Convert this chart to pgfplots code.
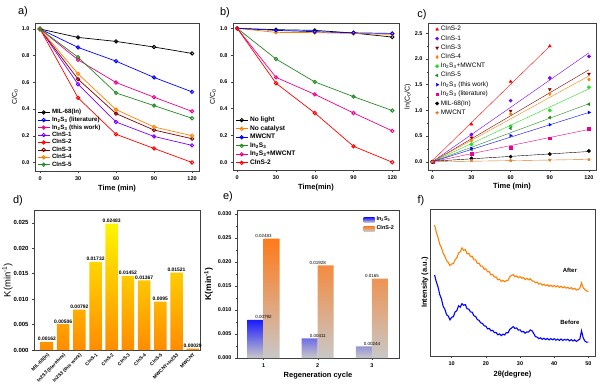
\documentclass[border=0pt]{standalone}
\usepackage{fontspec}
\setmainfont{Liberation Sans}
\usepackage{pgfplots}
\pgfplotsset{compat=1.18}
\usetikzlibrary{plotmarks}
\definecolor{cpurple}{HTML}{7F00FF}
\definecolor{cbrown}{HTML}{800000}
\definecolor{corange}{HTML}{FF8000}
\definecolor{cgreen}{HTML}{228B22}
\definecolor{clime}{HTML}{22DD22}
\definecolor{cstar}{HTML}{E07A20}
\definecolor{ytop}{HTML}{FFF500}
\definecolor{ybot}{HTML}{FF8C00}
\definecolor{gbot}{HTML}{C8C8C8}
\definecolor{btop}{HTML}{1A1AFF}
\definecolor{otop}{HTML}{FF7A1A}
\pgfplotsset{
  panel/.style={
    scale only axis,
    scaled y ticks=false, scaled x ticks=false,
    axis line style={black!75, line width=0.5pt},
    tick align=outside, xtick pos=left, ytick pos=left,
    major tick length=2bp, minor tick length=1.2bp,
    every tick/.style={black!75, line width=0.4pt},
    tick label style={font=\fontsize{5.5}{6}\selectfont\bfseries},
    /pgf/number format/assume math mode=true,
    label style={font=\fontsize{7.5}{8}\selectfont\bfseries},
    legend cell align=left,
    legend style={draw=none, fill=none, font=\fontsize{6.2}{6.5}\selectfont\bfseries, inner sep=0.5pt, row sep=-2.4pt},
  },
  lm/.style={line width=0.7pt, mark=o, mark size=1.7pt, mark options={line width=0.9pt}},
  linelegend/.style={legend image code/.code={\draw[##1, mark repeat=2, mark phase=2] plot coordinates {(0bp,0bp) (6bp,0bp) (12bp,0bp)};}},
}
\newcommand{\ins}{In\textsubscript{2}S\textsubscript{3}}
\begin{document}
\begin{tikzpicture}
% ---------------- panel a
\begin{axis}[panel, at={(35bp,-171bp)}, anchor=south west, width=164bp, height=148bp,
  xmin=-4, xmax=125.5, ymin=-0.064, ymax=1.045,
  xtick={0,30,60,90,120}, ytick={0,0.2,0.4,0.6,0.8,1.0}, minor x tick num=1,
  yticklabel style={/pgf/number format/.cd, fixed, fixed zerofill, precision=1},
  xlabel={Time (min)}, ylabel={C/C\textsubscript{0}},
  xlabel style={yshift=2bp}, ylabel style={yshift=-3bp, font=\fontsize{7}{8}\selectfont},
  linelegend,
  legend style={at={(0.01,0.005)}, anchor=south west}]
\addplot[lm, black] coordinates {(0,1) (30,0.937) (60,0.907) (90,0.865) (120,0.817)};
\addplot[lm, blue] coordinates {(0,1) (30,0.862) (60,0.759) (90,0.637) (120,0.529)};
\addplot[lm, magenta] coordinates {(0,1) (30,0.769) (60,0.599) (90,0.489) (120,0.383)};
\addplot[lm, cpurple] coordinates {(0,1) (30,0.586) (60,0.303) (90,0.195) (120,0.128)};
\addplot[lm, red] coordinates {(0,1) (30,0.484) (60,0.211) (90,0.105) (120,0.0)};
\addplot[lm, cbrown] coordinates {(0,1) (30,0.624) (60,0.366) (90,0.243) (120,0.178)};
\addplot[lm, corange] coordinates {(0,1) (30,0.664) (60,0.396) (90,0.266) (120,0.200)};
\addplot[lm, cgreen] coordinates {(0,1) (30,0.789) (60,0.521) (90,0.426) (120,0.331)};
\legend{MIL-68(In), \ins{} (literature), \ins{} (this work), CInS-1, CInS-2, CInS-3, CInS-4, CInS-5}
\end{axis}
\node[font=\fontsize{11}{12}\selectfont] at (23bp,-12bp) {a)};
% ---------------- panel b
\begin{axis}[panel, at={(233bp,-170bp)}, anchor=south west, width=166bp, height=147bp,
  xmin=-3.3, xmax=125.2, ymin=-0.058, ymax=1.04,
  xtick={0,30,60,90,120}, ytick={0,0.2,0.4,0.6,0.8,1.0}, minor x tick num=1,
  yticklabel style={/pgf/number format/.cd, fixed, fixed zerofill, precision=1},
  xlabel={Time(min)}, ylabel={C/C\textsubscript{0}},
  xlabel style={yshift=2bp}, ylabel style={yshift=-3bp, font=\fontsize{7}{8}\selectfont},
  linelegend,
  legend style={at={(0.01,0.01)}, anchor=south west, row sep=-1.6pt, font=\fontsize{6.6}{7}\selectfont\bfseries}]
\addplot[lm, black] coordinates {(0,1) (30,0.99) (60,0.985) (90,0.965) (120,0.935)};
\addplot[lm, corange] coordinates {(0,1) (30,0.97) (60,0.968) (90,0.962) (120,0.955)};
\addplot[lm, blue] coordinates {(0,1) (30,0.985) (60,0.975) (90,0.967) (120,0.962)};
\addplot[lm, cgreen] coordinates {(0,1) (30,0.771) (60,0.600) (90,0.490) (120,0.386)};
\addplot[lm, magenta] coordinates {(0,1) (30,0.634) (60,0.507) (90,0.368) (120,0.234)};
\addplot[lm, red] coordinates {(0,1) (30,0.590) (60,0.368) (90,0.119) (120,0.0)};
\legend{No light, No catalyst, MWCNT, \ins, \ins+MWCNT, CInS-2}
\end{axis}
\node[font=\fontsize{11}{12}\selectfont] at (225bp,-13bp) {b)};
% ---------------- panel c
\begin{axis}[panel, at={(428bp,-170bp)}, anchor=south west, width=168bp, height=147bp,
  xmin=-3.3, xmax=125.4, ymin=-0.16, ymax=2.7,
  xtick={0,30,60,90,120}, ytick={0,0.5,1.0,1.5,2.0,2.5}, minor x tick num=1, minor y tick num=1,
  yticklabel style={/pgf/number format/.cd, fixed, fixed zerofill, precision=1},
  xlabel={Time (min)}, ylabel={ln(C\textsubscript{0}/C)},
  xlabel style={yshift=3bp}, ylabel style={yshift=-3bp, font=\fontsize{7}{8}\selectfont},
  legend style={at={(0.04,0.995)}, anchor=north west, row sep=-0.8pt, font=\fontsize{6.5}{7}\selectfont},
  mark size=1.7pt]
\addplot[red, line width=0.4pt, forget plot] coordinates {(0,0.02) (90,2.25)};
\addplot[cpurple, line width=0.4pt, forget plot] coordinates {(0,0) (120,2.12)};
\addplot[cbrown, line width=0.4pt, forget plot] coordinates {(0,0) (120,1.79)};
\addplot[corange, line width=0.4pt, forget plot] coordinates {(0,0) (120,1.67)};
\addplot[clime, line width=0.4pt, forget plot] coordinates {(0,0) (120,1.42)};
\addplot[cgreen, line width=0.4pt, forget plot] coordinates {(0,0) (120,1.13)};
\addplot[blue, line width=0.4pt, forget plot] coordinates {(0,0) (120,0.96)};
\addplot[magenta, line width=0.4pt, forget plot] coordinates {(0,0) (120,0.63)};
\addplot[black, line width=0.4pt, forget plot] coordinates {(0,0.01) (120,0.20)};
\addplot[cstar, line width=0.4pt, forget plot] coordinates {(0,0) (120,0.045)};
\addplot[only marks, red, mark=triangle*] coordinates {(0,0) (30,0.73) (60,1.56) (90,2.25)};
\addplot[only marks, cpurple, mark=*] coordinates {(0,0) (30,0.53) (60,1.19) (90,1.63) (120,2.05)};
\addplot[only marks, cbrown, mark=triangle*, mark options={rotate=180}] coordinates {(0,0) (30,0.47) (60,0.99) (90,1.41) (120,1.71)};
\addplot[only marks, corange, mark=diamond*] coordinates {(0,0) (30,0.41) (60,0.93) (90,1.32) (120,1.60)};
\addplot[only marks, clime, mark=*] coordinates {(0,0) (30,0.34) (60,0.69) (90,1.00) (120,1.45)};
\addplot[only marks, cgreen, mark=triangle*, mark options={rotate=90}] coordinates {(0,0) (30,0.24) (60,0.65) (90,0.86) (120,1.12)};
\addplot[only marks, blue, mark=triangle*, mark options={rotate=-90}] coordinates {(0,0) (30,0.26) (60,0.51) (90,0.72) (120,0.96)};
\addplot[only marks, magenta, mark=square*, mark size=1.4pt] coordinates {(0,0) (30,0.15) (60,0.28) (90,0.46) (120,0.64)};
\addplot[only marks, black, mark=*] coordinates {(0,0) (30,0.065) (60,0.10) (90,0.15) (120,0.21)};
\addplot[only marks, cstar, mark=star, mark options={line width=0.8pt}] coordinates {(0,0) (30,0.025) (60,0.025) (90,0.035) (120,0.045)};
\legend{CInS-2, CInS-1, CInS-3, CInS-4, \ins+MWCNT, CInS-5, \ins{} (this work), \ins{} (literature), MIL-68(In), MWCNT}
\end{axis}
\node[font=\fontsize{11}{12}\selectfont] at (422bp,-15bp) {c)};
% ---------------- panel d
\begin{axis}[panel, at={(34bp,-350bp)}, anchor=south west, width=166bp, height=140bp,
  xtick pos=bottom, ytick pos=left,
  xmin=-0.8, xmax=9.45, ymin=0, ymax=0.0275,
  ytick={0,0.005,0.01,0.015,0.02,0.025},
  yticklabels={0.000,0.005,0.010,0.015,0.020,0.025},
  yticklabel style={font=\fontsize{6}{7}\selectfont\bfseries},
  xtick={0,...,9}, xtick style={draw=none},
  xticklabels={MIL-68(In), In2S3 (literature), In2S3 (this work), CInS-1, CInS-2, CInS-3, CInS-4, CInS-5, MWCNT+In2S3, MWCNT},
  xticklabel style={rotate=45, anchor=north east, font=\fontsize{4.8}{5}\selectfont\bfseries, inner sep=0.5pt},
  ylabel={K(min\textsuperscript{-1})}, ylabel style={font=\fontsize{9.5}{10}\selectfont, yshift=-6bp}]
\addplot[ybar, bar width=12.5bp, draw=none, top color=ytop, bottom color=ybot,
  nodes near coords, point meta=explicit symbolic,
  nodes near coords style={font=\fontsize{5}{5.5}\selectfont\bfseries, inner sep=1pt}]
  coordinates {(0,0.00162)[0.00162] (1,0.00506)[0.00506] (2,0.00792)[0.00792] (3,0.01732)[0.01732] (4,0.02483)[0.02483] (5,0.01452)[0.01452] (6,0.01367)[0.01367] (7,0.0095)[0.0095] (8,0.01521)[0.01521] (9,0.00029)[0.00029]};
\end{axis}
\node[font=\fontsize{11}{12}\selectfont] at (18bp,-201bp) {d)};
% ---------------- panel e
\begin{axis}[panel, at={(237bp,-358bp)}, anchor=south west, width=162bp, height=148bp,
  xmin=0.51, xmax=3.5, ymin=0, ymax=0.0308,
  xtick={1,2,3},
  ytick={0,0.005,0.01,0.015,0.02,0.025,0.03},
  yticklabels={0.000,0.005,0.010,0.015,0.020,0.025,0.030},
  minor y tick num=1,
  xlabel={Regeneration cycle}, ylabel={K(min\textsuperscript{-1})},
  xlabel style={yshift=2bp}, ylabel style={font=\fontsize{8.5}{9}\selectfont\bfseries, yshift=-2bp},
  legend image code/.code={\path[#1] (0bp,-2.4bp) rectangle (11bp,2.4bp);},
  legend style={at={(0.985,0.97)}, anchor=north east, row sep=-0.5pt, font=\fontsize{5.5}{6}\selectfont\bfseries},
  nodes near coords, point meta=explicit symbolic,
  nodes near coords style={font=\fontsize{4.5}{5}\selectfont, inner sep=1pt}]
\addplot[ybar, bar width=16bp, bar shift=-8bp, draw=none, top color=btop, bottom color=gbot]
  coordinates {(1,0.00792)[0.00792] (2,0.00411)[0.00411] (3,0.00244)[0.00244]};
\addplot[ybar, bar width=16bp, bar shift=8bp, draw=none, top color=otop, bottom color=gbot]
  coordinates {(1,0.02483)[0.02483] (2,0.01928)[0.01928] (3,0.0165)[0.0165]};
\legend{\ins, CInS-2}
\end{axis}
\node[font=\fontsize{11}{12}\selectfont] at (228bp,-197bp) {e)};
% ---------------- panel f
\begin{axis}[panel, at={(430bp,-356bp)}, anchor=south west, width=165bp, height=147bp,
  xmin=3.65, xmax=51.95, ymin=0, ymax=147,
  xtick={10,20,30,40,50}, minor x tick num=1, ytick=\empty,
  xlabel={2θ(degree)}, ylabel={Intensity (a.u.)},
  xlabel style={yshift=1bp}, ylabel style={yshift=-4bp}]
\addplot[corange, line width=1.1pt] coordinates {
(5,131.0) (5.5,123.8) (6,118.4) (6.5,111.9) (7,108.2) (7.5,102.6) (8,99.8) (8.5,95.4) (9,93.6) (9.5,90.3)
(10,92.1) (10.5,92.4) (11,96.3) (11.5,98.1) (12,102.9) (12.5,104.2) (13,108.1) (13.5,105.6) (14,106.4) (14.5,102.1)
(15,102.7) (15.5,99.4) (16,99.8) (16.5,96.2) (17,96.1) (17.5,92.6) (18,92.9) (18.5,89.8) (19,89.9) (19.5,86.7)
(20,87.2) (20.5,84.1) (21,84.3) (21.5,81.2) (22,81.6) (22.5,78.9) (23,79.1) (23.5,76.2) (24,76.8) (24.5,74.6)
(25,75.7) (25.5,74.2) (26,75.4) (26.5,75.8) (27,79.2) (27.5,80.6) (28,81.4) (28.5,79.2) (29,80.1) (29.5,78.3)
(30,79.4) (30.5,77.6) (31,78.5) (31.5,76.4) (32,77.6) (32.5,76.2) (33,77.3) (33.5,75.1) (34,74.9) (34.5,73.2)
(35,73.9) (35.5,71.8) (36,72.6) (36.5,70.9) (37,71.8) (37.5,70.2) (38,71.3) (38.5,69.7) (39,70.8) (39.5,69.4)
(40,70.6) (40.5,69.1) (41,70.2) (41.5,68.6) (42,69.7) (42.5,68.2) (43,69.3) (43.5,67.9) (44,68.8) (44.5,67.3)
(45,68.4) (45.5,66.8) (46,67.6) (46.5,65.9) (47,66.4) (47.5,67.8) (48,73.1) (48.5,68.2) (49,66.3) (49.5,65.1) (50,64.5)};
\addplot[blue, line width=1.1pt] coordinates {
(5,81.0) (5.5,74.2) (6,69.1) (6.5,61.5) (7,57.2) (7.5,49.6) (8,46.8) (8.5,41.3) (9,39.9) (9.5,36.2)
(10,38.7) (10.5,39.4) (11,44.1) (11.5,45.3) (12,50.2) (12.5,48.9) (13,52.3) (13.5,50.8) (14,51.4) (14.5,47.2)
(15,46.9) (15.5,44.1) (16,43.8) (16.5,40.2) (17,39.6) (17.5,36.4) (18,35.7) (18.5,33.1) (19,32.6) (19.5,30.2)
(20,29.8) (20.5,27.1) (21,27.6) (21.5,25.2) (22,25.7) (22.5,23.3) (23,23.6) (23.5,21.2) (24,22.1) (24.5,20.3)
(25,21.9) (25.5,21.1) (26,23.4) (26.5,23.2) (27,26.6) (27.5,27.9) (28,29.4) (28.5,27.6) (29,28.1) (29.5,25.9)
(30,26.2) (30.5,24.1) (31,24.6) (31.5,22.8) (32,24.1) (32.5,23.9) (33,26.1) (33.5,25.3) (34,22.6) (34.5,19.4)
(35,18.9) (35.5,17.3) (36,18.2) (36.5,16.6) (37,17.8) (37.5,16.4) (38,17.5) (38.5,16.1) (39,17.4) (39.5,16.2)
(40,17.3) (40.5,15.8) (41,16.9) (41.5,15.6) (42,17.0) (42.5,15.5) (43,16.6) (43.5,15.9) (44,16.7) (44.5,15.2)
(45,16.4) (45.5,15.0) (46,16.2) (46.5,14.6) (47,15.8) (47.5,16.8) (48,25.2) (48.5,18.1) (49,14.9) (49.5,13.8) (50,13.9)};
\node[font=\fontsize{6}{7}\selectfont\bfseries] at (axis cs:44.6,86) {After};
\node[font=\fontsize{6}{7}\selectfont\bfseries] at (axis cs:44.6,34) {Before};
\end{axis}
\node[font=\fontsize{11}{12}\selectfont] at (421bp,-201bp) {f)};
\pgfresetboundingbox
\path[use as bounding box] (0bp,0bp) rectangle (600bp,-392bp);
\end{tikzpicture}
\end{document}
